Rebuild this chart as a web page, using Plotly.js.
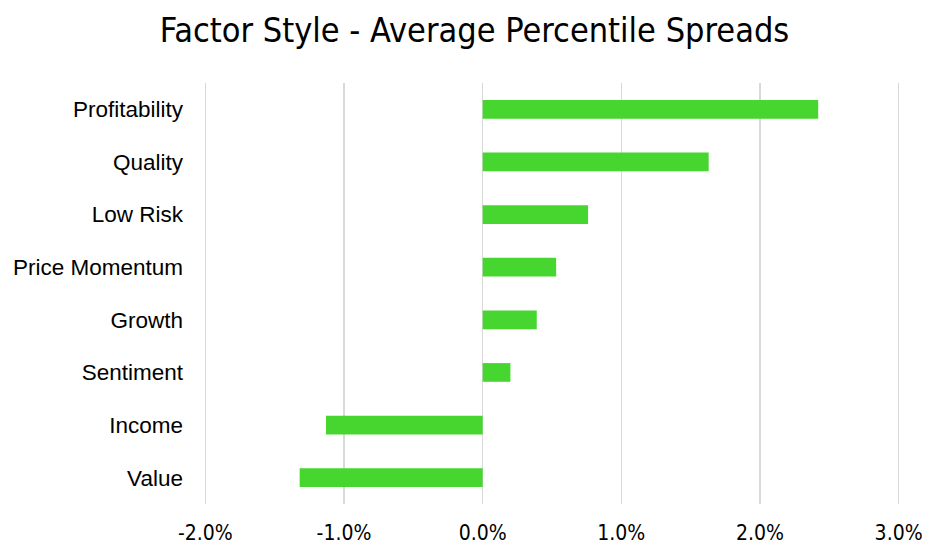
<!DOCTYPE html>
<html>
<head>
<meta charset="utf-8">
<script src="https://cdn.plot.ly/plotly-3.0.1.min.js"></script>
<style>html,body{margin:0;padding:0;background:#fff;}#chart{width:925px;height:545px;}</style>
</head>
<body>
<div id="chart"></div>
<script>
const categories = ["Profitability", "Quality", "Low Risk", "Price Momentum", "Growth", "Sentiment", "Income", "Value"];
const spreads = [0.0242, 0.0163, 0.0076, 0.0053, 0.0039, 0.0020, -0.0113, -0.0132];
const xTickVals = [-0.02, -0.01, 0, 0.01, 0.02, 0.03];
const xTickText = ["-2.0%", "-1.0%", "0.0%", "1.0%", "2.0%", "3.0%"];

const trace = {
  type: "bar",
  orientation: "h",
  y: categories,
  x: spreads,
  marker: {color: "#46d62f", line: {width: 0}},
  hoverinfo: "y+x"
};

const layout = {
  width: 925,
  height: 545,
  margin: {l: 204, r: 25, t: 83, b: 41},
  paper_bgcolor: "#ffffff",
  plot_bgcolor: "#ffffff",
  showlegend: false,
  bargap: 0.645,
  title: {
    text: "Factor Style - Average Percentile Spreads",
    font: {family: "DejaVu Sans Condensed, sans-serif", size: 34, color: "#000000"},
    x: 0.513, xanchor: "center",
    y: 0.945, yanchor: "middle"
  },
  xaxis: {
    range: [-0.0201, 0.0301],
    tickvals: xTickVals,
    ticktext: xTickText,
    showgrid: true,
    gridcolor: "#d9d9d9",
    gridwidth: 1.6,
    zeroline: true,
    zerolinecolor: "#d9d9d9",
    zerolinewidth: 1.6,
    showline: false,
    ticks: "",
    ticklabelstandoff: 14,
    tickfont: {family: "DejaVu Sans Condensed, sans-serif", size: 21, color: "#000000"},
    fixedrange: true
  },
  yaxis: {
    autorange: "reversed",
    categoryorder: "array",
    categoryarray: categories,
    showgrid: false,
    zeroline: false,
    showline: false,
    ticks: "",
    ticklabelstandoff: 20,
    tickfont: {family: "Liberation Sans, Arial, sans-serif", size: 22.5, color: "#000000"},
    fixedrange: true
  }
};

Plotly.newPlot("chart", [trace], layout, {displayModeBar: false, staticPlot: true});
</script>
</body>
</html>
